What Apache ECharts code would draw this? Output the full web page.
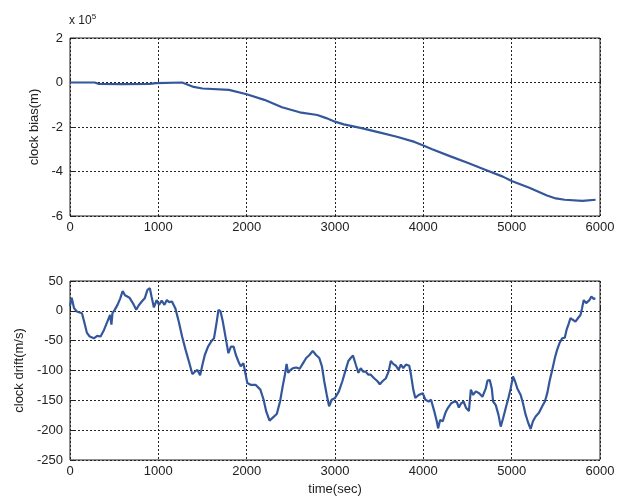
<!DOCTYPE html>
<html><head><meta charset="utf-8">
<script src="https://cdn.jsdelivr.net/npm/echarts@6/dist/echarts.min.js"></script>
<style>html,body{margin:0;padding:0;background:#fff}#c{width:619px;height:497px}</style>
</head><body><div id="c"></div>
<script>
const xTicks = [0, 1000, 2000, 3000, 4000, 5000, 6000];
const biasTicks = [2, 0, -2, -4, -6];
const driftTicks = [50, 0, -50, -100, -150, -200, -250];

const biasTime = [0,150,280,320,600,900,980,1000,1270,1400,1500,1800,2000,2200,2400,2600,2800,2900,3000,3100,3300,3500,3700,3900,4000,4100,4300,4500,4700,4900,5000,5200,5400,5500,5600,5800,5950];
const biasValue = [0,0,0,-0.06,-0.07,-0.06,-0.03,0,0,-0.2,-0.27,-0.33,-0.53,-0.78,-1.11,-1.34,-1.46,-1.6,-1.76,-1.88,-2.05,-2.24,-2.44,-2.67,-2.83,-3.0,-3.31,-3.61,-3.92,-4.23,-4.43,-4.73,-5.08,-5.21,-5.27,-5.32,-5.27];

const driftTime = [0,19,46,77,135,160,192,223,270,308,346,385,423,454,469,481,508,538,569,596,623,673,711,750,777,815,846,877,904,923,950,981,1008,1038,1069,1096,1123,1154,1192,1231,1269,1308,1346,1385,1415,1442,1473,1500,1526,1563,1600,1630,1656,1681,1704,1730,1767,1793,1822,1852,1878,1915,1933,1963,1989,2007,2044,2100,2155,2192,2222,2259,2296,2341,2378,2407,2433,2452,2470,2496,2526,2563,2600,2637,2674,2711,2748,2785,2822,2852,2878,2907,2933,2963,3000,3044,3083,3121,3151,3178,3204,3235,3265,3291,3318,3348,3378,3405,3443,3481,3507,3538,3576,3606,3632,3659,3689,3720,3746,3773,3803,3841,3860,3886,3909,3947,3993,4023,4061,4087,4125,4152,4167,4190,4220,4250,4277,4315,4353,4379,4402,4428,4455,4485,4516,4538,4564,4594,4632,4669,4707,4726,4752,4775,4790,4820,4850,4876,4903,4933,4963,4989,5015,5038,5064,5102,5128,5158,5188,5215,5241,5271,5309,5346,5376,5403,5429,5459,5489,5515,5542,5572,5602,5621,5647,5666,5692,5722,5752,5779,5797,5816,5843,5865,5880,5903,5929,5948];
const driftValue = [8,22,4.5,-1,-4,-18,-37,-43,-46,-42,-43,-32,-18,-7,-23,-4,2,10,21,33,26,22,13,2,9,16,21,35,38,24,5.6,18,10,17,10,18,14.5,15.6,4.5,-18,-43,-65,-85,-106,-102,-99,-108,-90,-74,-60,-51,-46,-23,1.7,-1,-18,-49,-71,-60,-60,-74,-88,-93,-88,-107,-121,-124,-124,-132,-149,-169,-184,-179,-173,-152,-127,-107,-89,-104,-99,-96,-95,-97,-88,-79,-74,-67,-74,-79,-93,-118,-141,-160,-149,-146,-135,-118,-99,-84,-79,-75,-90,-104,-96,-102,-102,-107,-107,-113,-118,-123,-118,-113,-102,-84,-89,-92,-99,-90,-96,-90,-92,-107,-132,-146,-141,-138,-149,-152,-149,-169,-185,-197,-183,-185,-171,-163,-155,-152,-153,-162,-155,-152,-163,-168,-132,-141,-135,-138,-144,-130,-117,-116,-130,-152,-158,-174,-194,-180,-163,-146,-130,-110,-118,-130,-141,-155,-174,-188,-198,-185,-177,-171,-160,-152,-138,-118,-99,-79,-65,-54,-46,-45,-32,-21,-12,-15,-18,-12,-7,4.5,18,13,10,18,24,20,21];

const font = 'Liberation Sans, Arial, sans-serif';
const txt = {color:'#222', fontSize:13, fontFamily:font};
const lineColor = '#33579a';
const split = {show:true, lineStyle:{color:'#222', type:[2,2], width:1}};
const tick = {show:true, inside:true, length:4, lineStyle:{color:'#222', width:1}};
const plain = v => String(v);

function xAxis(gi, name){
  return {type:'value', gridIndex:gi, min:xTicks[0], max:xTicks[xTicks.length-1], interval:1000,
    axisLine:{show:false}, axisTick:tick, splitLine:split,
    axisLabel:Object.assign({margin:5, formatter:plain}, txt),
    name:name||'', nameLocation:'middle', nameGap:23, nameTextStyle:Object.assign({}, txt)};
}
function yAxis(gi, ticks, name, gap){
  return {type:'value', gridIndex:gi, min:ticks[ticks.length-1], max:ticks[0], interval:ticks[0]-ticks[1],
    axisLine:{show:false}, axisTick:tick, splitLine:split,
    axisLabel:Object.assign({margin:7, formatter:plain}, txt),
    name:name, nameLocation:'middle', nameGap:gap, nameRotate:90, nameTextStyle:Object.assign({}, txt)};
}

const chart = echarts.init(document.getElementById('c'), null, {renderer:'canvas'});
chart.setOption({
  animation:false,
  backgroundColor:'#fff',
  grid:[
    {left:70, right:19, top:38, height:178, show:true, borderColor:'#222', borderWidth:1, backgroundColor:'transparent'},
    {left:70, right:19, top:281, height:179, show:true, borderColor:'#222', borderWidth:1, backgroundColor:'transparent'}
  ],
  xAxis:[xAxis(0), xAxis(1,'time(sec)')],
  yAxis:[yAxis(0, biasTicks, 'clock bias(m)', 28), yAxis(1, driftTicks, 'clock drift(m/s)', 43)],
  graphic:[{type:'text', left:69, top:13, style:{text:'{a|x 10}{b|5}', rich:{a:{fontSize:12, fontFamily:font, fill:'#222'}, b:{fontSize:8, fontFamily:font, fill:'#222', verticalAlign:'top', padding:[0,0,8,0]}}}}],
  series:[
    {type:'line', xAxisIndex:0, yAxisIndex:0, showSymbol:false, lineStyle:{color:lineColor, width:2.2}, data:biasTime.map((t,i)=>[t,biasValue[i]])},
    {type:'line', xAxisIndex:1, yAxisIndex:1, showSymbol:false, lineStyle:{color:lineColor, width:2.2}, data:driftTime.map((t,i)=>[t,driftValue[i]])}
  ]
});
</script></body></html>
